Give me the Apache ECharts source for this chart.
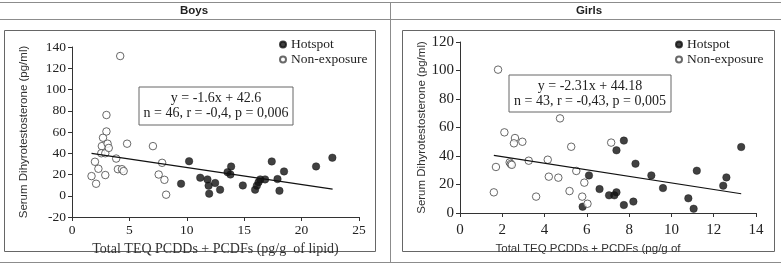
<!DOCTYPE html>
<html lang="en">

<head>
  <meta charset="UTF-8">
  <title>Dihydrotestosterone vs TEQ PCDDs + PCDFs</title>
  <script src="https://cdn.jsdelivr.net/npm/echarts@6/dist/echarts.min.js"></script>
  <style>
    html, body { margin: 0; padding: 0; background: #fff; }
  </style>
</head>

<body>
  <div id="main" style="width: 781px;height:265px;"></div>
  <script>
    // 數據
    var panelTitles = ['Boys', 'Girls'];
    var seriesNames = ['Hotspot', 'Non-exposure'];

    var boysHotspot = [
      [9.5, 11.3], [10.2, 32.5], [11.17, 17], [11.8, 15.4], [11.9, 9.5], [11.95, 2],
      [12.47, 12], [12.9, 5.7], [13.55, 22.2], [13.8, 20], [13.86, 27.5], [14.88, 9.7],
      [15.95, 5.7], [16.1, 9.5], [16.25, 12.8], [16.4, 15.4], [16.82, 15.4], [17.4, 32.3],
      [17.9, 15.7], [18.07, 4.7], [18.47, 22.9], [21.26, 27.6], [22.68, 35.8]
    ];
    var boysNonExposure = [
      [1.7, 18.5], [2.1, 11.3], [2.0, 32], [2.3, 25.4], [2.6, 46.7], [2.7, 54.6],
      [2.55, 40], [2.9, 40], [2.9, 19.5], [3.0, 76], [3.0, 60.5], [3.1, 49], [3.2, 45],
      [3.85, 35], [4.0, 25], [4.2, 131.5], [4.35, 25], [4.5, 23.2], [4.8, 49],
      [7.05, 46.7], [7.55, 20], [7.85, 31], [8.05, 15], [8.2, 1]
    ];
    var boysFit = [[1.7, 39.9], [22.7, 6.3]];
    var boysStats = ['y = -1.6x + 42.6', 'n = 46, r = -0,4, p = 0,006'];

    var girlsHotspot = [
      [5.8, 4.4], [6.1, 26.4], [6.6, 16.8], [7.05, 12.4], [7.3, 12.4], [7.4, 44],
      [7.4, 14.5], [7.75, 50.8], [7.75, 5.6], [8.3, 34.6], [8.2, 8], [9.05, 26.4],
      [9.6, 17.5], [10.8, 10.3], [11.05, 3], [11.2, 29.7], [12.45, 19.2], [12.6, 25],
      [13.3, 46.3]
    ];
    var girlsNonExposure = [
      [1.6, 14.5], [1.7, 32.3], [1.8, 100.6], [2.1, 56.6], [2.35, 35.5], [2.4, 34.4],
      [2.45, 33.8], [2.6, 52.6], [2.55, 48.9], [2.95, 50], [3.25, 36.7], [3.6, 11.5],
      [4.15, 37.4], [4.2, 25.5], [4.65, 24.8], [4.73, 66.4], [5.18, 15.4], [5.26, 46.5],
      [5.5, 29.5], [5.78, 11.5], [5.88, 21.3], [6.03, 6.5], [7.15, 49.4]
    ];
    var girlsFit = [[1.6, 40.5], [13.3, 13.5]];
    var girlsStats = ['y = -2.31x + 44.18', 'n = 43, r = -0,43, p = 0,005'];

    var yAxisName = 'Serum Dihyrotestosterone (pg/ml)';
    var boysXName = 'Total TEQ PCDDs + PCDFs (pg/g  of lipid)';
    var girlsXName = 'Total TEQ PCDDs + PCDFs (pg/g of';

    var myChart = echarts.init(document.getElementById('main'));

    var serif = '"Liberation Serif", "Times New Roman", serif';
    var sans = '"Liberation Sans", Arial, sans-serif';
    var lineGray = '#8c8c8c';

    // 共用的點樣式
    function hotStyle() {
      return { color: '#111', borderColor: '#111', borderWidth: 0.5 };
    }
    function nonStyle() {
      return { color: '#fff', borderColor: '#444', borderWidth: 1 };
    }

    function xAxis(idx, max, interval, name, fontSize, margin, nameGap, namePad, nameFont) {
      return {
        gridIndex: idx, type: 'value', min: 0, max: max, interval: interval,
        name: name, nameLocation: 'middle', nameGap: nameGap,
        nameTextStyle: { fontFamily: nameFont, fontSize: nameFont === serif ? 14 : 11.5, color: '#333', padding: namePad },
        axisLine: { onZero: false, lineStyle: { color: '#333', width: 1 } },
        axisTick: { length: 4, lineStyle: { color: '#333' } },
        axisLabel: { fontFamily: serif, fontSize: fontSize, color: '#222', margin: margin },
        splitLine: { show: false }
      };
    }
    function yAxis(idx, min, max, fontSize, nameGap) {
      return {
        gridIndex: idx, type: 'value', min: min, max: max, interval: 20,
        name: yAxisName, nameLocation: 'middle', nameGap: nameGap,
        nameTextStyle: { fontFamily: sans, fontSize: 11.5, color: '#333' },
        axisLine: { show: true, lineStyle: { color: '#333', width: 1 } },
        axisTick: { show: true, length: 4, lineStyle: { color: '#333' } },
        axisLabel: { fontFamily: serif, fontSize: fontSize, color: '#222', margin: 6 },
        splitLine: { show: false }
      };
    }
    function legend(left) {
      return {
        data: seriesNames, orient: 'vertical', left: left, top: 32,
        icon: 'circle', itemWidth: 6, itemHeight: 6, itemGap: 0,
        selectedMode: false,
        textStyle: { fontFamily: serif, fontSize: 13.5, color: '#222', lineHeight: 15 }
      };
    }
    // 回歸方程的框
    function statsBox(x, y, w, h, lines) {
      return {
        type: 'group', left: x, top: y,
        children: [
          { type: 'rect', shape: { x: 0, y: 0, width: w, height: h }, style: { fill: '#fff', stroke: '#666', lineWidth: 1 } },
          {
            type: 'text', x: w / 2, y: h / 2,
            style: { text: lines.join('\n'), font: '14px ' + serif, fill: '#222', align: 'center', verticalAlign: 'middle', lineHeight: 15 }
          }
        ]
      };
    }

    myChart.setOption({
      animation: false,
      grid: [
        { left: 72, top: 47, width: 287, height: 170 },
        { left: 460, top: 42, width: 296, height: 171 }
      ],
      xAxis: [
        xAxis(0, 25, 5, boysXName, 13.5, 6, 20, 0, serif),
        xAxis(1, 14, 2, girlsXName, 15, 10, 13, [0, 40, 0, 0], sans)
      ],
      yAxis: [
        yAxis(0, -20, 140, 13.5, 42),
        yAxis(1, 0, 120, 15, 32)
      ],
      legend: [legend(274), legend(670)],
      series: [
        { name: 'Hotspot', type: 'scatter', xAxisIndex: 0, yAxisIndex: 0, symbolSize: 7.5, itemStyle: hotStyle(), data: boysHotspot, z: 3 },
        { name: 'Non-exposure', type: 'scatter', xAxisIndex: 0, yAxisIndex: 0, symbolSize: 7.5, itemStyle: nonStyle(), data: boysNonExposure, z: 3 },
        { type: 'line', xAxisIndex: 0, yAxisIndex: 0, symbol: 'none', lineStyle: { color: '#111', width: 1.2 }, data: boysFit, z: 4 },
        { name: 'Hotspot', type: 'scatter', xAxisIndex: 1, yAxisIndex: 1, symbolSize: 7.5, itemStyle: hotStyle(), data: girlsHotspot, z: 3 },
        { name: 'Non-exposure', type: 'scatter', xAxisIndex: 1, yAxisIndex: 1, symbolSize: 7.5, itemStyle: nonStyle(), data: girlsNonExposure, z: 3 },
        { type: 'line', xAxisIndex: 1, yAxisIndex: 1, symbol: 'none', lineStyle: { color: '#111', width: 1.2 }, data: girlsFit, z: 4 }
      ],
      // 表格框線、標題和圖框
      graphic: [
        { type: 'line', shape: { x1: 0, y1: 2.5, x2: 781, y2: 2.5 }, style: { stroke: lineGray, lineWidth: 1 }, z: -1 },
        { type: 'line', shape: { x1: 0, y1: 19.5, x2: 781, y2: 19.5 }, style: { stroke: lineGray, lineWidth: 1 }, z: -1 },
        { type: 'line', shape: { x1: 0, y1: 262.5, x2: 781, y2: 262.5 }, style: { stroke: lineGray, lineWidth: 1 }, z: -1 },
        { type: 'line', shape: { x1: 390.5, y1: 2, x2: 390.5, y2: 263 }, style: { stroke: lineGray, lineWidth: 1 }, z: -1 },
        { type: 'text', x: 194, y: 11, style: { text: panelTitles[0], font: 'bold 11.5px ' + sans, fill: '#222', align: 'center', verticalAlign: 'middle' } },
        { type: 'text', x: 589, y: 11, style: { text: panelTitles[1], font: 'bold 11.5px ' + sans, fill: '#222', align: 'center', verticalAlign: 'middle' } },
        { type: 'rect', shape: { x: 4.5, y: 30.5, width: 371, height: 221 }, style: { fill: 'none', stroke: '#666', lineWidth: 1 }, z: -1 },
        { type: 'rect', shape: { x: 402.5, y: 30.5, width: 372, height: 221 }, style: { fill: 'none', stroke: '#666', lineWidth: 1 }, z: -1 },
        statsBox(138.5, 86.5, 154, 38, boysStats),
        statsBox(508.5, 74.5, 162, 37, girlsStats)
      ]
    });
  </script>
</body>

</html>
